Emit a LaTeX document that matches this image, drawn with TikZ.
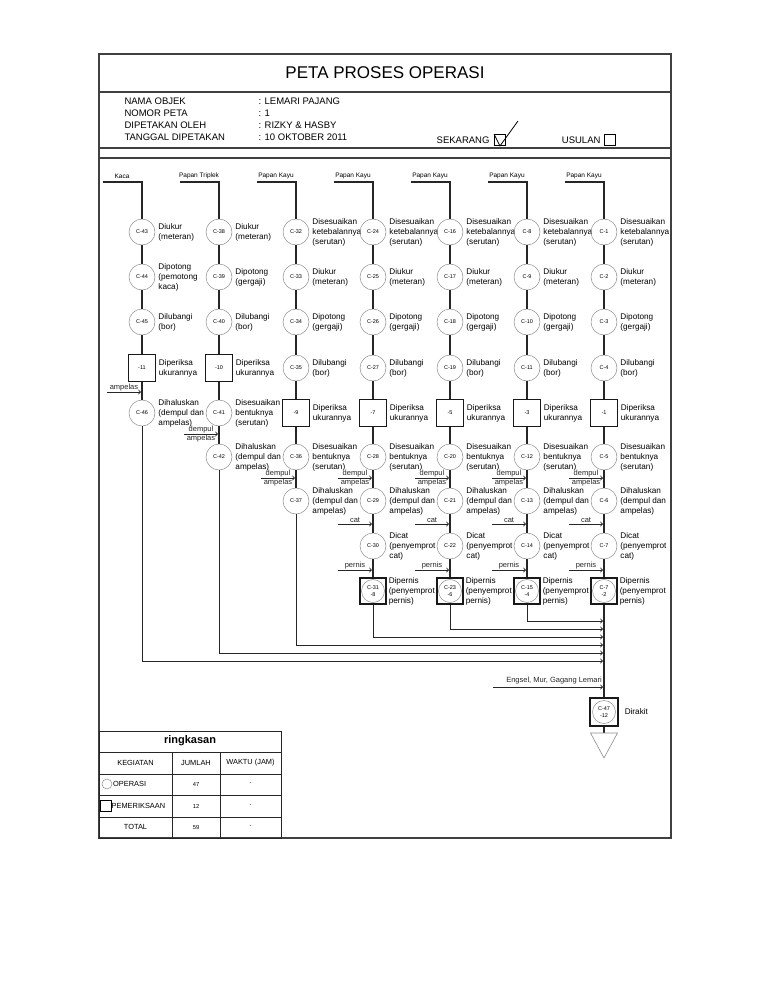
\documentclass[tikz,border=0pt]{standalone}
\usepackage{fontspec}
\setmainfont{Liberation Sans}
\usetikzlibrary{positioning}

\tikzset{
  op/.style={circle, draw=black!45, line width=0.5pt, minimum size=26pt, inner sep=0pt, font=\fontsize{5.5}{6.5}\selectfont},
  cek/.style={draw=black!90, line width=1.3pt, minimum size=27pt, inner sep=0pt, font=\fontsize{5.5}{6.5}\selectfont},
  gabung/.style={cek, line width=1.1pt, minimum size=26pt, align=center,
    path picture={\draw[black!45, line width=0.5pt] (path picture bounding box.center) circle (11.5pt);}},
  ket/.style={align=left, inner sep=2pt, font=\fontsize{8.2}{10}\selectfont},
  bahan/.style={inner sep=1pt, font=\fontsize{6.5}{7.5}\selectfont},
  tambah/.style={inner sep=0.8pt, font=\fontsize{7.5}{8.5}\selectfont},
  alur/.style={line width=1.1pt, black!85},
  masuk/.style={line width=0.9pt, black!85, ->},
  bingkai/.style={line width=1.2pt, black!75},
  tabel/.style={line width=0.9pt, black!85},
  isi/.style={inner sep=1pt, font=\fontsize{7.4}{8.5}\selectfont},
  angka/.style={inner sep=1pt, font=\fontsize{5.8}{7}\selectfont},
}

\begin{document}
\begin{tikzpicture}[x=1pt, y=-1pt]
  \useasboundingbox (0,0) rectangle (768,994);
  \draw[bingkai] (99,54) rectangle (671,838);
  \draw[bingkai] (99,92) -- (671,92) (99,148) -- (671,148) (99,158) -- (671,158);

  \node[font=\fontsize{17}{20}\selectfont] (judul) at (385,73) {PETA PROSES OPERASI};
  \node[anchor=west, align=left, font=\fontsize{9.5}{12}\selectfont] (kiri) at (121,119)
    {NAMA OBJEK\\NOMOR PETA\\DIPETAKAN OLEH\\TANGGAL DIPETAKAN};
  \node[anchor=west, align=left, font=\fontsize{9.5}{12}\selectfont] (nilai) at (255,119)
    {: LEMARI PAJANG\\: 1\\: RIZKY \& HASBY\\: 10 OKTOBER 2011};
  \node[anchor=east, font=\fontsize{9.5}{11}\selectfont] (skrg) at (493,140) {SEKARANG};
  \node[draw, line width=0.8pt, minimum size=11pt, inner sep=0pt] (kotak1) at (500,140) {};
  \draw[line width=0.8pt] (kotak1.north west) -- (kotak1.south) -- (518,121);
  \node[anchor=east, font=\fontsize{9.5}{11}\selectfont] (usl) at (604,140) {USULAN};
  \node[draw, line width=0.8pt, minimum size=11pt, inner sep=0pt] (kotak2) at (610,140) {};

  \node[op] (c43) at (142,232) {C-43};
  \node[op] (c44) at (142,277) {C-44};
  \node[op] (c45) at (142,322) {C-45};
  \node[cek] (i11) at (142,368) {-11};
  \node[op] (c46) at (142,413) {C-46};
  \node[ket, right=1pt of c43] (k43) {Diukur\\(meteran)};
  \node[ket, right=1pt of c44] (k44) {Dipotong\\(pemotong\\kaca)};
  \node[ket, right=1pt of c45] (k45) {Dilubangi\\(bor)};
  \node[ket, right=0.5pt of i11] (k11) {Diperiksa\\ukurannya};
  \node[ket, right=1pt of c46] (k46) {Dihaluskan\\(dempul dan\\ampelas)};
  \draw[alur] (c43) -- (c44) -- (c45) -- (i11) -- (c46);
  \draw[masuk] (107,392) -- (141,392) node[tambah, midway, above] (am1) {ampelas};

  \node[op] (c38) at (219,232) {C-38};
  \node[op] (c39) at (219,277) {C-39};
  \node[op] (c40) at (219,322) {C-40};
  \node[cek] (i10) at (219,368) {-10};
  \node[op] (c41) at (219,413) {C-41};
  \node[op] (c42) at (219,457) {C-42};
  \node[ket, right=1pt of c38] (k38) {Diukur\\(meteran)};
  \node[ket, right=1pt of c39] (k39) {Dipotong\\(gergaji)};
  \node[ket, right=1pt of c40] (k40) {Dilubangi\\(bor)};
  \node[ket, right=0.5pt of i10] (k10) {Diperiksa\\ukurannya};
  \node[ket, right=1pt of c41] (k41) {Disesuaikan\\bentuknya\\(serutan)};
  \node[ket, right=1pt of c42] (k42) {Dihaluskan\\(dempul dan\\ampelas)};
  \draw[alur] (c38) -- (c39) -- (c40) -- (i10) -- (c41) -- (c42);
  \draw[masuk] (184,434) -- (218,434) node[tambah, midway, above] (dp2) {dempul}
    node[tambah, midway, below] (am2) {ampelas};

  \foreach \x/\n/\m in {296/32/9, 373/24/7, 450/16/5, 527/8/3, 604/1/1} {
    \pgfmathtruncatemacro\nB{\n+1}
    \pgfmathtruncatemacro\nC{\n+2}
    \pgfmathtruncatemacro\nD{\n+3}
    \pgfmathtruncatemacro\nE{\n+4}
    \pgfmathtruncatemacro\nF{\n+5}
    \node[op] (c\n) at (\x,232) {C-\n};
    \node[op] (c\nB) at (\x,277) {C-\nB};
    \node[op] (c\nC) at (\x,322) {C-\nC};
    \node[op] (c\nD) at (\x,368) {C-\nD};
    \node[cek] (i\m) at (\x,413) {-\m};
    \node[op] (c\nE) at (\x,457) {C-\nE};
    \node[op] (c\nF) at (\x,501) {C-\nF};
    \node[ket, right=1pt of c\n] (k\n) {Disesuaikan\\ketebalannya\\(serutan)};
    \node[ket, right=1pt of c\nB] (k\nB) {Diukur\\(meteran)};
    \node[ket, right=1pt of c\nC] (k\nC) {Dipotong\\(gergaji)};
    \node[ket, right=1pt of c\nD] (k\nD) {Dilubangi\\(bor)};
    \node[ket, right=0.5pt of i\m] (ki\m) {Diperiksa\\ukurannya};
    \node[ket, right=1pt of c\nE] (k\nE) {Disesuaikan\\bentuknya\\(serutan)};
    \node[ket, right=1pt of c\nF] (k\nF) {Dihaluskan\\(dempul dan\\ampelas)};
    \draw[alur] (c\n) -- (c\nB) -- (c\nC) -- (c\nD) -- (i\m) -- (c\nE) -- (c\nF);
    \draw[masuk] (\x-35,478) -- (\x-1,478) node[tambah, midway, above] (dp\n) {dempul}
      node[tambah, midway, below] (am\n) {ampelas};
  }

  \foreach \x/\n/\q/\m in {373/30/31/8, 450/22/23/6, 527/14/15/4, 604/7/7/2} {
    \pgfmathtruncatemacro\nP{\n-1}
    \node[op] (c\n) at (\x,546) {C-\n};
    \node[gabung] (g\m) at (\x,591) {C-\q\\-\m};
    \node[ket, right=1pt of c\n] (k\n) {Dicat\\(penyemprot\\cat)};
    \node[ket, right=0pt of g\m] (kg\m) {Dipernis\\(penyemprot\\pernis)};
    \draw[alur] (c\nP) -- (c\n) -- (g\m);
    \draw[masuk] (\x-35,524) -- (\x-1,524) node[tambah, midway, above] (ct\n) {cat};
    \draw[masuk] (\x-35,570) -- (\x-1,570) node[tambah, midway, above] (pr\n) {pernis};
  }

  \foreach \x/\n/\t in {142/43/Kaca, 219/38/Papan Triplek, 296/32/Papan Kayu, 373/24/Papan Kayu,
      450/16/Papan Kayu, 527/8/Papan Kayu, 604/1/Papan Kayu} {
    \node[bahan] (t\n) at (\x-20,176) {\t};
    \coordinate (s\n) at (\x-39,182);
    \draw[alur] (s\n) -| (c\n);
  }

  \foreach \a/\y in {c46/661, c42/653, c37/645, g8/637, g6/629, g4/621} {
    \coordinate (j\a) at (603,\y);
    \draw[masuk] (\a) |- (j\a);
  }

  \coordinate (eng) at (493,687);
  \coordinate (engj) at (603,687);
  \draw[masuk] (eng) -- (engj)
    node[tambah, pos=1, anchor=south east, yshift=1.5pt] (engt) {Engsel, Mur, Gagang Lemari};

  \node[gabung, minimum size=28pt] (c47) at (604,712) {C-47\\-12};
  \node[ket, right=4pt of c47] (k47) {Dirakit};
  \coordinate (gd) at (604,733);
  \draw[alur] (g2) -- (c47) -- (gd);
  \draw[black!45, line width=0.6pt] (590.5,733) -- (617.5,733) -- (604,758) -- cycle;

  \draw[tabel] (99,731) rectangle (281,838);
  \foreach \y in {752,774,795,817} \draw[tabel] (99,\y) -- (281,\y);
  \draw[tabel] (172,752) -- (172,838) (220,752) -- (220,838);
  \node[font=\bfseries\fontsize{11}{13}\selectfont] (ring) at (190,741) {ringkasan};
  \node[isi] (h1) at (135.5,763) {KEGIATAN};
  \node[isi] (h2) at (196,763) {JUMLAH};
  \node[isi] (h3) at (250.5,763) {WAKTU (JAM)};
  \node[circle, draw=black!45, line width=0.5pt, minimum size=10pt, inner sep=0pt] (lop) at (107,784) {};
  \node[isi, anchor=west] (r1) at (112,784) {OPERASI};
  \node[draw, line width=0.9pt, minimum size=11pt, inner sep=0pt] (lcek) at (106,806) {};
  \node[isi, anchor=west] (r2) at (110.5,806) {PEMERIKSAAN};
  \node[isi] (r3) at (135.5,827) {TOTAL};
  \node[angka] (n1) at (196,784) {47};
  \node[angka] (n2) at (196,806) {12};
  \node[angka] (n3) at (196,827) {59};
  \node[angka] (w1) at (250.5,784) {-};
  \node[angka] (w2) at (250.5,806) {-};
  \node[angka] (w3) at (250.5,827) {-};
\end{tikzpicture}
\end{document}
